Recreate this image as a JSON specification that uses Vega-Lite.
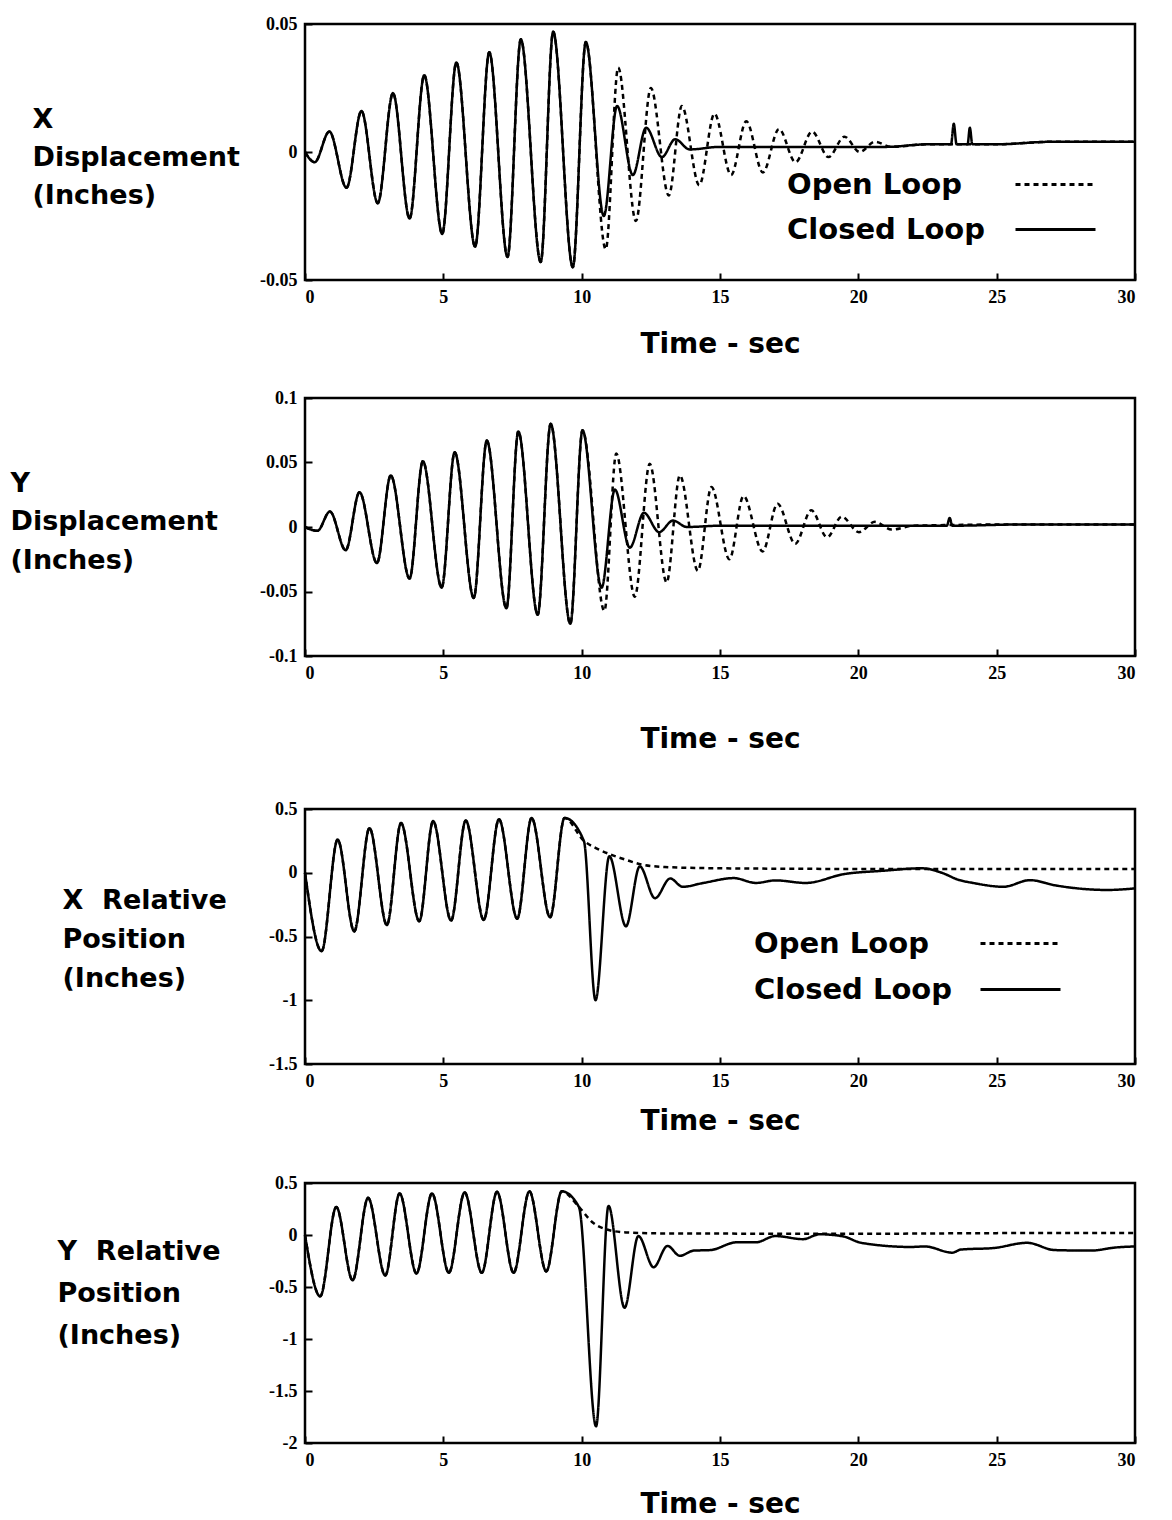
{
"$schema": "https://vega.github.io/schema/vega-lite/v6.json",
"padding": {"left": 8, "top": 13, "right": 5, "bottom": 0},
"background": "white",
"spacing": 27,
"config": {
  "view": {"stroke": "black", "strokeWidth": 2.5},
  "axis": {"domain": false, "grid": false, "ticks": true, "tickColor": "black", "tickWidth": 2, "tickSize": -7,
    "labelFont": "Liberation Serif", "labelFontWeight": "bold", "labelFontSize": 18, "labelColor": "black",
    "titleFont": "DejaVu Sans", "titleFontWeight": "bold", "titleColor": "black"},
  "legend": {"padding": 0}
},
"resolve": {"scale": {"strokeDash": "independent"}, "legend": {"strokeDash": "independent"}},
"datasets": {
"p1": [
{"t":0,"y":0,"loop":"Open Loop"},{"t":0.35,"y":-0.004,"loop":"Open Loop"},{"t":0.88,"y":0.008,"loop":"Open Loop"},{"t":1.5,"y":-0.014,"loop":"Open Loop"},{"t":2.04,"y":0.016,"loop":"Open Loop"},{"t":2.63,"y":-0.02,"loop":"Open Loop"},{"t":3.18,"y":0.023,"loop":"Open Loop"},{"t":3.78,"y":-0.026,"loop":"Open Loop"},{"t":4.31,"y":0.03,"loop":"Open Loop"},{"t":4.96,"y":-0.032,"loop":"Open Loop"},{"t":5.47,"y":0.035,"loop":"Open Loop"},{"t":6.15,"y":-0.037,"loop":"Open Loop"},{"t":6.66,"y":0.039,"loop":"Open Loop"},{"t":7.32,"y":-0.041,"loop":"Open Loop"},{"t":7.8,"y":0.044,"loop":"Open Loop"},{"t":8.52,"y":-0.043,"loop":"Open Loop"},{"t":8.97,"y":0.047,"loop":"Open Loop"},{"t":9.68,"y":-0.045,"loop":"Open Loop"},{"t":10.15,"y":0.043,"loop":"Open Loop"},
{"t":10.87,"y":-0.038,"loop":"Open Loop"},{"t":11.32,"y":0.033,"loop":"Open Loop"},{"t":11.96,"y":-0.027,"loop":"Open Loop"},{"t":12.5,"y":0.025,"loop":"Open Loop"},{"t":13.15,"y":-0.017,"loop":"Open Loop"},{"t":13.62,"y":0.018,"loop":"Open Loop"},{"t":14.25,"y":-0.013,"loop":"Open Loop"},{"t":14.8,"y":0.015,"loop":"Open Loop"},{"t":15.4,"y":-0.009,"loop":"Open Loop"},{"t":15.95,"y":0.012,"loop":"Open Loop"},{"t":16.55,"y":-0.008,"loop":"Open Loop"},{"t":17.13,"y":0.009,"loop":"Open Loop"},{"t":17.73,"y":-0.004,"loop":"Open Loop"},{"t":18.33,"y":0.008,"loop":"Open Loop"},{"t":18.92,"y":-0.002,"loop":"Open Loop"},{"t":19.5,"y":0.006,"loop":"Open Loop"},{"t":20.05,"y":0.0,"loop":"Open Loop"},{"t":20.6,"y":0.004,"loop":"Open Loop"},{"t":21.2,"y":0.002,"loop":"Open Loop"},{"t":22.5,"y":0.003,"loop":"Open Loop"},{"t":25,"y":0.003,"loop":"Open Loop"},{"t":27,"y":0.004,"loop":"Open Loop"},{"t":30,"y":0.004,"loop":"Open Loop"},
{"t":0,"y":0,"loop":"Closed Loop"},{"t":0.35,"y":-0.004,"loop":"Closed Loop"},{"t":0.88,"y":0.008,"loop":"Closed Loop"},{"t":1.5,"y":-0.014,"loop":"Closed Loop"},{"t":2.04,"y":0.016,"loop":"Closed Loop"},{"t":2.63,"y":-0.02,"loop":"Closed Loop"},{"t":3.18,"y":0.023,"loop":"Closed Loop"},{"t":3.78,"y":-0.026,"loop":"Closed Loop"},{"t":4.31,"y":0.03,"loop":"Closed Loop"},{"t":4.96,"y":-0.032,"loop":"Closed Loop"},{"t":5.47,"y":0.035,"loop":"Closed Loop"},{"t":6.15,"y":-0.037,"loop":"Closed Loop"},{"t":6.66,"y":0.039,"loop":"Closed Loop"},{"t":7.32,"y":-0.041,"loop":"Closed Loop"},{"t":7.8,"y":0.044,"loop":"Closed Loop"},{"t":8.52,"y":-0.043,"loop":"Closed Loop"},{"t":8.97,"y":0.047,"loop":"Closed Loop"},{"t":9.68,"y":-0.045,"loop":"Closed Loop"},{"t":10.15,"y":0.043,"loop":"Closed Loop"},
{"t":10.8,"y":-0.025,"loop":"Closed Loop"},{"t":11.28,"y":0.018,"loop":"Closed Loop"},{"t":11.85,"y":-0.009,"loop":"Closed Loop"},{"t":12.33,"y":0.0095,"loop":"Closed Loop"},{"t":12.9,"y":-0.002,"loop":"Closed Loop"},{"t":13.38,"y":0.005,"loop":"Closed Loop"},{"t":13.9,"y":0.001,"loop":"Closed Loop"},{"t":15,"y":0.002,"loop":"Closed Loop"},{"t":17,"y":0.002,"loop":"Closed Loop"},{"t":19,"y":0.002,"loop":"Closed Loop"},{"t":21,"y":0.002,"loop":"Closed Loop"},{"t":22.5,"y":0.003,"loop":"Closed Loop"},{"t":23.35,"y":0.003,"loop":"Closed Loop"},{"t":23.45,"y":0.011,"loop":"Closed Loop"},{"t":23.55,"y":0.003,"loop":"Closed Loop"},{"t":23.95,"y":0.003,"loop":"Closed Loop"},{"t":24.03,"y":0.0095,"loop":"Closed Loop"},{"t":24.12,"y":0.003,"loop":"Closed Loop"},{"t":25,"y":0.003,"loop":"Closed Loop"},{"t":27,"y":0.004,"loop":"Closed Loop"},{"t":30,"y":0.004,"loop":"Closed Loop"}
],
"p2": [
{"t":0,"y":0,"loop":"Open Loop"},{"t":0.45,"y":-0.003,"loop":"Open Loop"},{"t":0.9,"y":0.012,"loop":"Open Loop"},{"t":1.47,"y":-0.018,"loop":"Open Loop"},{"t":1.97,"y":0.027,"loop":"Open Loop"},{"t":2.6,"y":-0.028,"loop":"Open Loop"},{"t":3.1,"y":0.04,"loop":"Open Loop"},{"t":3.78,"y":-0.04,"loop":"Open Loop"},{"t":4.26,"y":0.051,"loop":"Open Loop"},{"t":4.94,"y":-0.047,"loop":"Open Loop"},{"t":5.41,"y":0.058,"loop":"Open Loop"},{"t":6.1,"y":-0.055,"loop":"Open Loop"},{"t":6.57,"y":0.067,"loop":"Open Loop"},{"t":7.28,"y":-0.063,"loop":"Open Loop"},{"t":7.71,"y":0.074,"loop":"Open Loop"},{"t":8.41,"y":-0.068,"loop":"Open Loop"},{"t":8.88,"y":0.08,"loop":"Open Loop"},{"t":9.59,"y":-0.075,"loop":"Open Loop"},{"t":10.03,"y":0.075,"loop":"Open Loop"},
{"t":10.82,"y":-0.065,"loop":"Open Loop"},{"t":11.25,"y":0.057,"loop":"Open Loop"},{"t":11.92,"y":-0.054,"loop":"Open Loop"},{"t":12.46,"y":0.049,"loop":"Open Loop"},{"t":13.07,"y":-0.043,"loop":"Open Loop"},{"t":13.55,"y":0.04,"loop":"Open Loop"},{"t":14.2,"y":-0.034,"loop":"Open Loop"},{"t":14.69,"y":0.031,"loop":"Open Loop"},{"t":15.34,"y":-0.025,"loop":"Open Loop"},{"t":15.85,"y":0.024,"loop":"Open Loop"},{"t":16.54,"y":-0.019,"loop":"Open Loop"},{"t":17.08,"y":0.018,"loop":"Open Loop"},{"t":17.72,"y":-0.013,"loop":"Open Loop"},{"t":18.3,"y":0.013,"loop":"Open Loop"},{"t":18.87,"y":-0.008,"loop":"Open Loop"},{"t":19.4,"y":0.008,"loop":"Open Loop"},{"t":20.02,"y":-0.004,"loop":"Open Loop"},{"t":20.6,"y":0.004,"loop":"Open Loop"},{"t":21.2,"y":-0.002,"loop":"Open Loop"},{"t":22,"y":0.001,"loop":"Open Loop"},{"t":26,"y":0.002,"loop":"Open Loop"},{"t":30,"y":0.002,"loop":"Open Loop"},
{"t":0,"y":0,"loop":"Closed Loop"},{"t":0.45,"y":-0.003,"loop":"Closed Loop"},{"t":0.9,"y":0.012,"loop":"Closed Loop"},{"t":1.47,"y":-0.018,"loop":"Closed Loop"},{"t":1.97,"y":0.027,"loop":"Closed Loop"},{"t":2.6,"y":-0.028,"loop":"Closed Loop"},{"t":3.1,"y":0.04,"loop":"Closed Loop"},{"t":3.78,"y":-0.04,"loop":"Closed Loop"},{"t":4.26,"y":0.051,"loop":"Closed Loop"},{"t":4.94,"y":-0.047,"loop":"Closed Loop"},{"t":5.41,"y":0.058,"loop":"Closed Loop"},{"t":6.1,"y":-0.055,"loop":"Closed Loop"},{"t":6.57,"y":0.067,"loop":"Closed Loop"},{"t":7.28,"y":-0.063,"loop":"Closed Loop"},{"t":7.71,"y":0.074,"loop":"Closed Loop"},{"t":8.41,"y":-0.068,"loop":"Closed Loop"},{"t":8.88,"y":0.08,"loop":"Closed Loop"},{"t":9.59,"y":-0.075,"loop":"Closed Loop"},{"t":10.03,"y":0.075,"loop":"Closed Loop"},
{"t":10.72,"y":-0.047,"loop":"Closed Loop"},{"t":11.2,"y":0.029,"loop":"Closed Loop"},{"t":11.74,"y":-0.016,"loop":"Closed Loop"},{"t":12.25,"y":0.011,"loop":"Closed Loop"},{"t":12.8,"y":-0.004,"loop":"Closed Loop"},{"t":13.3,"y":0.005,"loop":"Closed Loop"},{"t":13.8,"y":0.0,"loop":"Closed Loop"},{"t":15,"y":0.001,"loop":"Closed Loop"},{"t":20,"y":0.001,"loop":"Closed Loop"},{"t":23.2,"y":0.001,"loop":"Closed Loop"},{"t":23.3,"y":0.007,"loop":"Closed Loop"},{"t":23.4,"y":0.001,"loop":"Closed Loop"},{"t":26,"y":0.002,"loop":"Closed Loop"},{"t":30,"y":0.002,"loop":"Closed Loop"}
],
"p3": [
{"t":0,"y":0,"loop":"Open Loop"},{"t":0.6,"y":-0.615,"loop":"Open Loop"},{"t":1.18,"y":0.26,"loop":"Open Loop"},{"t":1.78,"y":-0.46,"loop":"Open Loop"},{"t":2.33,"y":0.35,"loop":"Open Loop"},{"t":2.96,"y":-0.41,"loop":"Open Loop"},{"t":3.47,"y":0.39,"loop":"Open Loop"},{"t":4.13,"y":-0.38,"loop":"Open Loop"},{"t":4.63,"y":0.405,"loop":"Open Loop"},{"t":5.28,"y":-0.375,"loop":"Open Loop"},{"t":5.81,"y":0.41,"loop":"Open Loop"},{"t":6.46,"y":-0.37,"loop":"Open Loop"},{"t":7.01,"y":0.42,"loop":"Open Loop"},{"t":7.67,"y":-0.36,"loop":"Open Loop"},{"t":8.19,"y":0.43,"loop":"Open Loop"},{"t":8.86,"y":-0.35,"loop":"Open Loop"},{"t":9.38,"y":0.43,"loop":"Open Loop"},{"t":10.08,"y":0.25,"loop":"Open Loop"},
{"t":10.55,"y":0.19,"loop":"Open Loop"},{"t":11.08,"y":0.14,"loop":"Open Loop"},{"t":11.62,"y":0.1,"loop":"Open Loop"},{"t":12.16,"y":0.065,"loop":"Open Loop"},{"t":13,"y":0.045,"loop":"Open Loop"},{"t":15,"y":0.035,"loop":"Open Loop"},{"t":20,"y":0.03,"loop":"Open Loop"},{"t":25,"y":0.03,"loop":"Open Loop"},{"t":30,"y":0.03,"loop":"Open Loop"},
{"t":0,"y":0,"loop":"Closed Loop"},{"t":0.6,"y":-0.615,"loop":"Closed Loop"},{"t":1.18,"y":0.26,"loop":"Closed Loop"},{"t":1.78,"y":-0.46,"loop":"Closed Loop"},{"t":2.33,"y":0.35,"loop":"Closed Loop"},{"t":2.96,"y":-0.41,"loop":"Closed Loop"},{"t":3.47,"y":0.39,"loop":"Closed Loop"},{"t":4.13,"y":-0.38,"loop":"Closed Loop"},{"t":4.63,"y":0.405,"loop":"Closed Loop"},{"t":5.28,"y":-0.375,"loop":"Closed Loop"},{"t":5.81,"y":0.41,"loop":"Closed Loop"},{"t":6.46,"y":-0.37,"loop":"Closed Loop"},{"t":7.01,"y":0.42,"loop":"Closed Loop"},{"t":7.67,"y":-0.36,"loop":"Closed Loop"},{"t":8.19,"y":0.43,"loop":"Closed Loop"},{"t":8.86,"y":-0.35,"loop":"Closed Loop"},{"t":9.38,"y":0.43,"loop":"Closed Loop"},{"t":10.08,"y":0.25,"loop":"Closed Loop"},
{"t":10.5,"y":-1.0,"loop":"Closed Loop"},{"t":11.0,"y":0.13,"loop":"Closed Loop"},{"t":11.6,"y":-0.42,"loop":"Closed Loop"},{"t":12.1,"y":0.05,"loop":"Closed Loop"},{"t":12.65,"y":-0.2,"loop":"Closed Loop"},{"t":13.2,"y":-0.045,"loop":"Closed Loop"},{"t":13.65,"y":-0.11,"loop":"Closed Loop"},{"t":14.4,"y":-0.08,"loop":"Closed Loop"},{"t":15.5,"y":-0.042,"loop":"Closed Loop"},{"t":16.3,"y":-0.08,"loop":"Closed Loop"},{"t":17.0,"y":-0.06,"loop":"Closed Loop"},{"t":18.1,"y":-0.08,"loop":"Closed Loop"},{"t":19.5,"y":-0.01,"loop":"Closed Loop"},{"t":20.85,"y":0.015,"loop":"Closed Loop"},{"t":22.3,"y":0.035,"loop":"Closed Loop"},{"t":23.05,"y":-0.003,"loop":"Closed Loop"},{"t":23.6,"y":-0.054,"loop":"Closed Loop"},{"t":24.15,"y":-0.08,"loop":"Closed Loop"},{"t":25.25,"y":-0.11,"loop":"Closed Loop"},{"t":26.2,"y":-0.058,"loop":"Closed Loop"},{"t":27.15,"y":-0.1,"loop":"Closed Loop"},{"t":29.0,"y":-0.135,"loop":"Closed Loop"},{"t":30,"y":-0.123,"loop":"Closed Loop"}
],
"p4": [
{"t":0,"y":0,"loop":"Open Loop"},{"t":0.55,"y":-0.59,"loop":"Open Loop"},{"t":1.13,"y":0.27,"loop":"Open Loop"},{"t":1.72,"y":-0.435,"loop":"Open Loop"},{"t":2.28,"y":0.357,"loop":"Open Loop"},{"t":2.9,"y":-0.39,"loop":"Open Loop"},{"t":3.42,"y":0.4,"loop":"Open Loop"},{"t":4.03,"y":-0.37,"loop":"Open Loop"},{"t":4.59,"y":0.4,"loop":"Open Loop"},{"t":5.2,"y":-0.364,"loop":"Open Loop"},{"t":5.77,"y":0.41,"loop":"Open Loop"},{"t":6.39,"y":-0.364,"loop":"Open Loop"},{"t":6.94,"y":0.415,"loop":"Open Loop"},{"t":7.54,"y":-0.364,"loop":"Open Loop"},{"t":8.11,"y":0.42,"loop":"Open Loop"},{"t":8.72,"y":-0.35,"loop":"Open Loop"},{"t":9.28,"y":0.42,"loop":"Open Loop"},{"t":9.9,"y":0.27,"loop":"Open Loop"},
{"t":10.4,"y":0.12,"loop":"Open Loop"},{"t":10.95,"y":0.05,"loop":"Open Loop"},{"t":11.6,"y":0.025,"loop":"Open Loop"},{"t":13,"y":0.015,"loop":"Open Loop"},{"t":20,"y":0.012,"loop":"Open Loop"},{"t":25,"y":0.018,"loop":"Open Loop"},{"t":30,"y":0.02,"loop":"Open Loop"},
{"t":0,"y":0,"loop":"Closed Loop"},{"t":0.55,"y":-0.59,"loop":"Closed Loop"},{"t":1.13,"y":0.27,"loop":"Closed Loop"},{"t":1.72,"y":-0.435,"loop":"Closed Loop"},{"t":2.28,"y":0.357,"loop":"Closed Loop"},{"t":2.9,"y":-0.39,"loop":"Closed Loop"},{"t":3.42,"y":0.4,"loop":"Closed Loop"},{"t":4.03,"y":-0.37,"loop":"Closed Loop"},{"t":4.59,"y":0.4,"loop":"Closed Loop"},{"t":5.2,"y":-0.364,"loop":"Closed Loop"},{"t":5.77,"y":0.41,"loop":"Closed Loop"},{"t":6.39,"y":-0.364,"loop":"Closed Loop"},{"t":6.94,"y":0.415,"loop":"Closed Loop"},{"t":7.54,"y":-0.364,"loop":"Closed Loop"},{"t":8.11,"y":0.42,"loop":"Closed Loop"},{"t":8.72,"y":-0.35,"loop":"Closed Loop"},{"t":9.28,"y":0.42,"loop":"Closed Loop"},{"t":9.9,"y":0.27,"loop":"Closed Loop"},
{"t":10.52,"y":-1.84,"loop":"Closed Loop"},{"t":10.97,"y":0.28,"loop":"Closed Loop"},{"t":11.55,"y":-0.7,"loop":"Closed Loop"},{"t":12.05,"y":-0.01,"loop":"Closed Loop"},{"t":12.6,"y":-0.31,"loop":"Closed Loop"},{"t":13.1,"y":-0.105,"loop":"Closed Loop"},{"t":13.55,"y":-0.2,"loop":"Closed Loop"},{"t":14.05,"y":-0.15,"loop":"Closed Loop"},{"t":14.65,"y":-0.145,"loop":"Closed Loop"},{"t":15.6,"y":-0.07,"loop":"Closed Loop"},{"t":16.3,"y":-0.07,"loop":"Closed Loop"},{"t":17.0,"y":-0.01,"loop":"Closed Loop"},{"t":18.0,"y":-0.04,"loop":"Closed Loop"},{"t":18.6,"y":0.007,"loop":"Closed Loop"},{"t":19.45,"y":-0.013,"loop":"Closed Loop"},{"t":20.1,"y":-0.075,"loop":"Closed Loop"},{"t":21.9,"y":-0.115,"loop":"Closed Loop"},{"t":22.4,"y":-0.11,"loop":"Closed Loop"},{"t":23.4,"y":-0.17,"loop":"Closed Loop"},{"t":23.7,"y":-0.14,"loop":"Closed Loop"},{"t":24.9,"y":-0.125,"loop":"Closed Loop"},{"t":26.1,"y":-0.075,"loop":"Closed Loop"},{"t":27.1,"y":-0.145,"loop":"Closed Loop"},{"t":28.4,"y":-0.15,"loop":"Closed Loop"},{"t":29.3,"y":-0.12,"loop":"Closed Loop"},{"t":30,"y":-0.11,"loop":"Closed Loop"}
]
},
"vconcat": [
{
  "width": 830, "height": 256,
  "data": {"name": "p1"},
  "mark": {"type": "line", "interpolate": "monotone", "color": "black", "strokeWidth": 2.5},
  "encoding": {
    "x": {"field": "t", "type": "quantitative", "scale": {"domain": [0, 30], "nice": false},
      "axis": {"values": [0, 5, 10, 15, 20, 25, 30], "labelExpr": "datum.value + ''", "labelPadding": 15,
        "title": "Time - sec", "titleFontSize": 28, "titleBaseline": "top", "titleY": 50}},
    "y": {"field": "y", "type": "quantitative", "scale": {"domain": [-0.05, 0.05], "nice": false, "zero": false},
      "axis": {"values": [-0.05, 0, 0.05], "labelExpr": "datum.value + ''", "labelPadding": 15,
        "title": ["X", "Displacement", "(Inches)"], "titleAngle": 0, "titleAlign": "left", "titleBaseline": "alphabetic",
        "titleX": -273, "titleY": 103, "titleFontSize": 27, "titleLineHeight": 38}},
    "strokeDash": {"field": "loop", "type": "nominal",
      "scale": {"domain": ["Open Loop", "Closed Loop"], "range": [[5, 4], [1, 0]]},
      "legend": {"title": null, "orient": "none", "legendX": 482, "legendY": 146, "symbolType": "M-8,0H8", "symbolSize": 100,
        "symbolStrokeWidth": 3, "symbolStrokeColor": "black", "symbolFillColor": "transparent", "symbolOffset": 254, "labelOffset": -283, "labelAlign": "left",
        "labelFont": "DejaVu Sans", "labelFontWeight": "bold", "labelFontSize": 29, "labelColor": "black", "labelLimit": 400,
        "rowPadding": 15}}
  }
},
{
  "width": 830, "height": 258,
  "data": {"name": "p2"},
  "mark": {"type": "line", "interpolate": "monotone", "color": "black", "strokeWidth": 2.5},
  "encoding": {
    "x": {"field": "t", "type": "quantitative", "scale": {"domain": [0, 30], "nice": false},
      "axis": {"values": [0, 5, 10, 15, 20, 25, 30], "labelExpr": "datum.value + ''", "labelPadding": 15,
        "title": ["Time - sec", ""], "titleFontSize": 28, "titleBaseline": "top", "titleY": 69, "titleLineHeight": 16}},
    "y": {"field": "y", "type": "quantitative", "scale": {"domain": [-0.1, 0.1], "nice": false, "zero": false},
      "axis": {"values": [-0.1, -0.05, 0, 0.05, 0.1], "labelExpr": "datum.value + ''", "labelPadding": 15,
        "title": ["Y", "Displacement", "(Inches)"], "titleAngle": 0, "titleAlign": "left", "titleBaseline": "alphabetic",
        "titleX": -295, "titleY": 93, "titleFontSize": 27, "titleLineHeight": 38.5}},
    "strokeDash": {"field": "loop", "type": "nominal",
      "scale": {"domain": ["Open Loop", "Closed Loop"], "range": [[5, 4], [1, 0]]}, "legend": null}
  }
},
{
  "width": 830, "height": 255,
  "data": {"name": "p3"},
  "mark": {"type": "line", "interpolate": "monotone", "color": "black", "strokeWidth": 2.5},
  "encoding": {
    "x": {"field": "t", "type": "quantitative", "scale": {"domain": [0, 30], "nice": false},
      "axis": {"values": [0, 5, 10, 15, 20, 25, 30], "labelExpr": "datum.value + ''", "labelPadding": 15,
        "title": ["Time - sec", ""], "titleFontSize": 28, "titleBaseline": "top", "titleY": 43, "titleLineHeight": 8}},
    "y": {"field": "y", "type": "quantitative", "scale": {"domain": [-1.5, 0.5], "nice": false, "zero": false},
      "axis": {"values": [-1.5, -1, -0.5, 0, 0.5], "labelExpr": "datum.value + ''", "labelPadding": 15,
        "title": ["X\u00a0\u00a0Relative", "Position", "(Inches)"], "titleAngle": 0, "titleAlign": "left", "titleBaseline": "alphabetic",
        "titleX": -243, "titleY": 99, "titleFontSize": 27, "titleLineHeight": 39}},
    "strokeDash": {"field": "loop", "type": "nominal",
      "scale": {"domain": ["Open Loop", "Closed Loop"], "range": [[5, 4], [1, 0]]},
      "legend": {"title": null, "orient": "none", "legendX": 449, "legendY": 120, "symbolType": "M-8,0H8", "symbolSize": 100,
        "symbolStrokeWidth": 3, "symbolStrokeColor": "black", "symbolFillColor": "transparent", "symbolOffset": 252, "labelOffset": -281, "labelAlign": "left",
        "labelFont": "DejaVu Sans", "labelFontWeight": "bold", "labelFontSize": 29, "labelColor": "black", "labelLimit": 400,
        "rowPadding": 16}}
  }
},
{
  "width": 830, "height": 260,
  "data": {"name": "p4"},
  "mark": {"type": "line", "interpolate": "monotone", "color": "black", "strokeWidth": 2.5},
  "encoding": {
    "x": {"field": "t", "type": "quantitative", "scale": {"domain": [0, 30], "nice": false},
      "axis": {"values": [0, 5, 10, 15, 20, 25, 30], "labelExpr": "datum.value + ''", "labelPadding": 15,
        "title": "Time - sec", "titleFontSize": 28, "titleBaseline": "top", "titleY": 47}},
    "y": {"field": "y", "type": "quantitative", "scale": {"domain": [-2, 0.5], "nice": false, "zero": false},
      "axis": {"values": [-2, -1.5, -1, -0.5, 0, 0.5], "labelExpr": "datum.value + ''", "labelPadding": 15,
        "title": ["Y\u00a0\u00a0Relative", "Position", "(Inches)"], "titleAngle": 0, "titleAlign": "left", "titleBaseline": "alphabetic",
        "titleX": -248, "titleY": 76, "titleFontSize": 27, "titleLineHeight": 42}},
    "strokeDash": {"field": "loop", "type": "nominal",
      "scale": {"domain": ["Open Loop", "Closed Loop"], "range": [[5, 4], [1, 0]]}, "legend": null}
  }
}
]
}
